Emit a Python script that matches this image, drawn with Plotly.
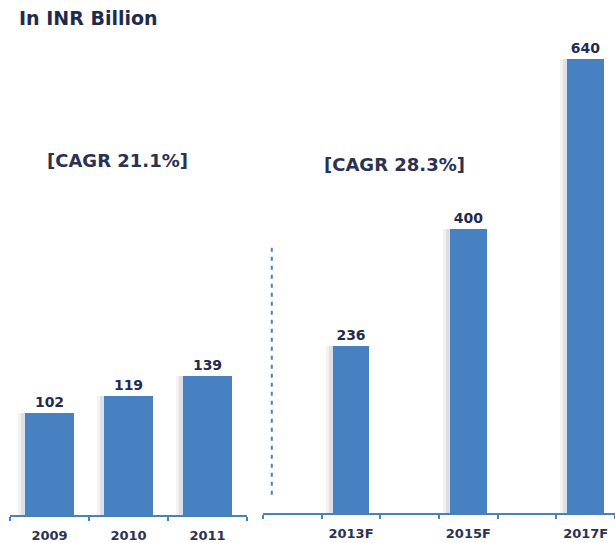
import plotly.graph_objects as go

# Data
hist_years = ["2009", "2010", "2011"]
hist_values = [102, 119, 139]
fc_categories = ["2012", "2013F", "2014", "2015F", "2016", "2017F"]
fc_labels = ["", "2013F", "", "2015F", "", "2017F"]
fc_years = ["2013F", "2015F", "2017F"]
fc_values = [236, 400, 640]
unit_title = "In INR Billion"
cagr_hist = "[CAGR 21.1%]"
cagr_fc = "[CAGR 28.3%]"

W, H = 615, 543
BAR = "#4781c1"
NAVY = "#1f2b4d"
FONT = "DejaVu Sans"
bw = 0.63

fig = go.Figure()

# soft left-side shadows (two layers for a gradient look)
for xs, ys, xa, ya, unit in [(hist_years, hist_values, "x", "y", 1 / 79),
                             (fc_years, fc_values, "x2", "y2", 1 / 59)]:
    for extra, alpha in [(7, 0.05), (4, 0.07)]:
        fig.add_trace(go.Bar(x=xs, y=ys, xaxis=xa, yaxis=ya,
                             width=bw + extra * unit, offset=-bw / 2 - extra * unit,
                             marker=dict(color=f"rgba(0,0,0,{alpha})", line=dict(width=0)),
                             hoverinfo="skip", showlegend=False))

fig.add_trace(go.Bar(x=hist_years, y=hist_values, xaxis="x", yaxis="y",
                     width=bw, offset=-bw / 2,
                     marker=dict(color=BAR, line=dict(width=0)),
                     text=[str(v) for v in hist_values], textposition="outside",
                     textfont=dict(family=FONT, size=14, color=NAVY, weight="bold"),
                     cliponaxis=False, showlegend=False))
fig.add_trace(go.Bar(x=fc_years, y=fc_values, xaxis="x2", yaxis="y2",
                     width=bw, offset=-bw / 2,
                     marker=dict(color=BAR, line=dict(width=0)),
                     text=[str(v) for v in fc_values], textposition="outside",
                     textfont=dict(family=FONT, size=14, color=NAVY, weight="bold"),
                     cliponaxis=False, showlegend=False))

axis_common = dict(
    showgrid=False, zeroline=False, showline=True, linecolor=BAR, linewidth=2,
    ticks="outside", ticklen=4, tickcolor=BAR, tickwidth=1.5, tickson="boundaries",
    tickfont=dict(family=FONT, size=13, color="#2a3350", weight="bold"),
    ticklabelstandoff=7, fixedrange=True,
)

fig.update_layout(
    width=W, height=H,
    margin=dict(l=0, r=0, t=0, b=0),
    paper_bgcolor="white", plot_bgcolor="white",
    barmode="overlay", bargap=0,
    xaxis=dict(domain=[10 / W, 247 / W], type="category",
               categoryorder="array", categoryarray=hist_years,
               range=[-0.5, len(hist_years) - 0.5],
               anchor="y", **axis_common),
    yaxis=dict(domain=[23 / H, 1], range=[0, 520 / 1.01], visible=False,
               anchor="x", fixedrange=True),
    xaxis2=dict(domain=[263 / W, 1], type="category",
                categoryorder="array", categoryarray=fc_categories,
                tickmode="array", tickvals=fc_categories, ticktext=fc_labels,
                range=[-0.5, len(fc_categories) - 0.5],
                anchor="y2", **axis_common),
    yaxis2=dict(domain=[25 / H, 1], range=[0, 518 / 0.716], visible=False,
                anchor="x2", fixedrange=True),
    shapes=[dict(type="line", xref="x2", yref="y2", x0=-0.35, x1=-0.35,
                 y0=26, y1=381, line=dict(color=BAR, width=2, dash="4px,5px"))],
    annotations=[
        dict(text=unit_title, xref="paper", yref="paper", x=17 / W, y=1 - 18 / H,
             xanchor="left", yanchor="middle", showarrow=False,
             font=dict(family=FONT, size=19, color=NAVY, weight="bold")),
        dict(text=cagr_hist, xref="paper", yref="paper", x=45 / W, y=1 - 162 / H,
             xanchor="left", yanchor="middle", showarrow=False,
             font=dict(family=FONT, size=18, color="#2b3150", weight="bold")),
        dict(text=cagr_fc, xref="paper", yref="paper", x=322 / W, y=1 - 166 / H,
             xanchor="left", yanchor="middle", showarrow=False,
             font=dict(family=FONT, size=18, color="#2b3150", weight="bold")),
    ],
)

fig.write_html("out.html", config={"displayModeBar": False},
               post_script="document.body.style.margin='0';document.body.style.overflow='hidden';")
